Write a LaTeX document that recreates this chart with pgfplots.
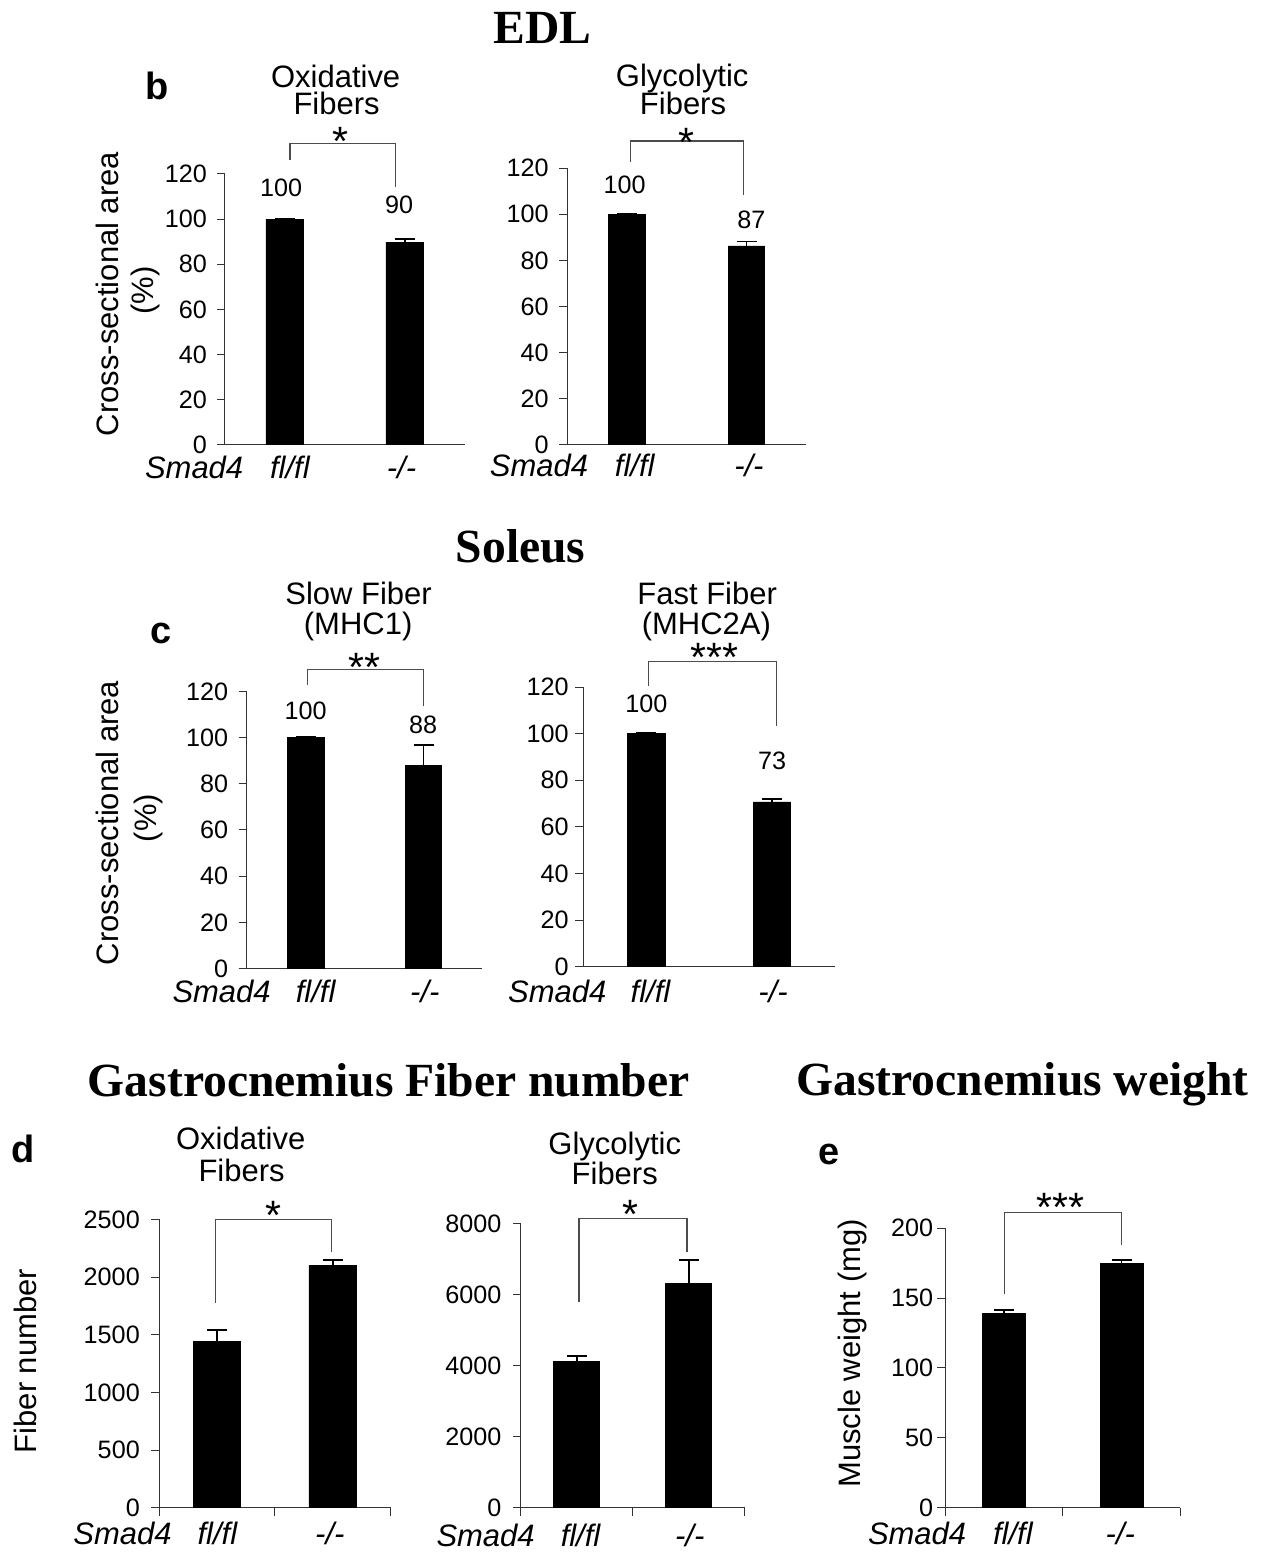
\documentclass[border=0pt]{standalone}
\usepackage{pgfplots}
\pgfplotsset{compat=1.18}
\usepackage{fontspec}
\setmainfont{Liberation Sans}
\newfontfamily\timesbold[Ligatures=TeX]{Liberation Serif}

\newcommand{\fsA}{\fontsize{12.6}{14}\selectfont}
\newcommand{\fsB}{\fontsize{15.5}{18}\selectfont}
\newcommand{\fsS}{\fontsize{20.5}{22}\selectfont}
\newcommand{\fsL}{\fontsize{19}{22}\selectfont\bfseries}
\newcommand{\fsH}{\fontsize{23.8}{26}\selectfont\timesbold\bfseries}

\tikzset{bracket/.style={black!70, line width=0.6pt}}

\pgfplotsset{
  panel/.style={
    scale only axis,
    clip=false,
    axis x line=bottom,
    axis y line=left,
    axis line style={-, black!80, line width=0.5pt},
    xmin=0.5, xmax=2.5, ymin=0,
    enlargelimits=false,
    xtick=\empty,
    tick align=outside,
    major tick length=4pt,
    tick style={black!80, line width=0.5pt},
    tick label style={font=\fsA},
    /pgf/number format/assume math mode=true,
    /pgf/number format/1000 sep={},
    scaled y ticks=false,
    ybar,
  },
  septicks/.style={xtick={0.5,1.5,2.5}, xticklabels={}},
  bars/.style={
    fill=black, draw=black, line width=0.4pt,
    error bars/.cd, y dir=plus, y explicit,
    error bar style={black, line width=0.8pt},
    error mark options={rotate=90, black, line width=0.8pt, mark size=5pt},
  },
}

\begin{document}
\begin{tikzpicture}

% ---- EDL, oxidative
\begin{axis}[panel, at={(112.5pt,-222.5pt)}, anchor=south west,
  width=120pt, height=135.5pt, ymax=120, ytick={0,20,...,120},
  bar width=0.315, yticklabel style={xshift=-1.5pt}]
\addplot[bars] coordinates {(1,100) +- (0,0.3) (2,89.8) +- (0,1.3)};
\draw[bracket] (axis cs:1.042,126.2) |- (axis cs:1.925,133.6) -- (axis cs:1.925,114.4);
\end{axis}

% ---- EDL, glycolytic
\begin{axis}[panel, at={(283.65pt,-222.5pt)}, anchor=south west,
  width=119.7pt, height=138.35pt, ymax=120, ytick={0,20,...,120},
  bar width=0.306, yticklabel style={xshift=-1.7pt}]
\addplot[bars] coordinates {(1,100) +- (0,0.3) (2,86.3) +- (0,1.9)};
\draw[bracket] (axis cs:1.03,122.9) |- (axis cs:1.976,131.8) -- (axis cs:1.976,108.4);
\end{axis}

% ---- Soleus, slow
\begin{axis}[panel, at={(123.35pt,-484.5pt)}, anchor=south west,
  width=118pt, height=138.65pt, ymax=120, ytick={0,20,...,120},
  bar width=0.311, yticklabel style={xshift=-1.7pt}]
\addplot[bars] coordinates {(1,100) +- (0,0.3) (2,87.8) +- (0,9.0)};
\draw[bracket] (axis cs:1.014,122.9) |- (axis cs:1.997,129.4) -- (axis cs:1.997,113.5);
\end{axis}

% ---- Soleus, fast
\begin{axis}[panel, at={(291.65pt,-483.65pt)}, anchor=south west,
  width=126pt, height=140pt, ymax=120, ytick={0,20,...,120},
  bar width=0.30, yticklabel style={xshift=0.3pt}]
\addplot[bars] coordinates {(1,100) +- (0,0.3) (2,70.7) +- (0,1.3)};
\draw[bracket] (axis cs:1.021,120.3) |- (axis cs:2.035,131) -- (axis cs:2.035,103.1);
\end{axis}

% ---- Gastrocnemius, oxidative fiber number
\begin{axis}[panel, septicks, at={(79.65pt,-754.15pt)}, anchor=south west,
  width=115.7pt, height=144.15pt, ymax=2500, ytick={0,500,...,2500},
  bar width=0.41, yticklabel style={xshift=-2.2pt}]
\addplot[bars] coordinates {(1,1442) +- (0,98) (2,2100) +- (0,50)};
\draw[bracket] (axis cs:0.99,1777) |- (axis cs:1.99,2500) -- (axis cs:1.99,2216);
\end{axis}

% ---- Gastrocnemius, glycolytic fiber number
\begin{axis}[panel, septicks, at={(260.5pt,-754.15pt)}, anchor=south west,
  width=112pt, height=142pt, ymax=8000, ytick={0,2000,...,8000},
  bar width=0.41, yticklabel style={xshift=-2.2pt}]
\addplot[bars] coordinates {(1,4113) +- (0,157) (2,6318) +- (0,657)};
\draw[bracket] (axis cs:1.02,5792) |- (axis cs:1.985,8141) -- (axis cs:1.985,7200);
\end{axis}

% ---- Gastrocnemius weight
\begin{axis}[panel, septicks, at={(472.85pt,-754.15pt)}, anchor=south west,
  width=117.65pt, height=139.8pt, ymax=200, ytick={0,50,...,200},
  bar width=0.363, yticklabel style={xshift=1.5pt}]
\addplot[bars] coordinates {(1,139) +- (0,2.3) (2,174.5) +- (0,2.6)};
\draw[bracket] (axis cs:1.004,152.6) |- (axis cs:2.001,211) -- (axis cs:2.001,188.3);
\end{axis}

% ---- text placed in reference pixel units
\begin{scope}[x=0.5pt, y=-0.5pt]
\path (0,0) rectangle (1270,1553);

% headings
\node[anchor=base, font=\fsH] at (542.5,43.3) {EDL};
\node[anchor=base, font=\fsH] at (520.8,563) {Soleus};
\node[anchor=base, font=\fsH] at (389,1096.5) {Gastrocnemius Fiber number};
\node[anchor=base, font=\fsH] at (1023,1096) {Gastrocnemius weight};

% panel letters
\node[anchor=base, font=\fsL] at (156.7,100) {b};
\node[anchor=base, font=\fsL] at (160.8,643.3) {c};
\node[anchor=base, font=\fsL] at (23.3,1163.3) {d};
\node[anchor=base, font=\fsL] at (829,1165) {e};

% subplot titles
\begin{scope}[every node/.style={anchor=base, font=\fsB}]
\node at (335.8,87.7) {Oxidative};
\node at (336.7,115) {Fibers};
\node at (682.5,86.7) {Glycolytic};
\node at (683.3,115) {Fibers};
\node at (358.7,605) {Slow Fiber};
\node at (358.3,635) {(MHC1)};
\node at (707.5,605) {Fast Fiber};
\node at (706.7,635) {(MHC2A)};
\node at (240.8,1150) {Oxidative};
\node at (241.7,1181.7) {Fibers};
\node at (615,1155) {Glycolytic};
\node at (615,1185) {Fibers};
\end{scope}

% y labels
\begin{scope}[every node/.style={anchor=center, rotate=90, font=\fsB}]
\node at (107,294.2) {Cross-sectional area};
\node at (145.8,290.8) {(\%)};
\node at (107.5,823.3) {Cross-sectional area};
\node at (148.3,818.3) {(\%)};
\node at (25,1361.7) {Fiber number};
\node at (853,1354) {Muscle weight (mg)};
\end{scope}

% genotype labels
\begin{scope}[every node/.style={anchor=base, font=\fsB\itshape}]
\node at (194.2,478.3) {Smad4}; \node at (290,478.3) {fl/fl}; \node at (401.7,478.3) {-/-};
\node at (539.2,476.7) {Smad4}; \node at (635,476.7) {fl/fl}; \node at (749.2,476.7) {-/-};
\node at (221.7,1003.3) {Smad4}; \node at (315.8,1003.3) {fl/fl}; \node at (425,1003.3) {-/-};
\node at (557.5,1003.3) {Smad4}; \node at (650.8,1003.3) {fl/fl}; \node at (773.3,1003.3) {-/-};
\node at (122.5,1545) {Smad4}; \node at (217.5,1545) {fl/fl}; \node at (330,1545) {-/-};
\node at (485.8,1546.7) {Smad4}; \node at (580.8,1546.7) {fl/fl}; \node at (690,1546.7) {-/-};
\node at (917.5,1545) {Smad4}; \node at (1013.3,1545) {fl/fl}; \node at (1120.8,1545) {-/-};
\end{scope}

% mean values above bars
\begin{scope}[every node/.style={anchor=base, font=\fsA}]
\node at (281.2,196.7) {100}; \node at (399.3,214) {90};
\node at (625,193.3) {100}; \node at (751.7,228.3) {87};
\node at (305.8,720) {100}; \node at (423.3,734.3) {88};
\node at (646.7,712.7) {100}; \node at (772.5,770) {73};
\end{scope}

% significance stars
\begin{scope}[every node/.style={anchor=base, font=\fsS}]
\node at (340.8,155.5) {*};
\node at (686.7,156.3) {*};
\node at (365,681.8) {**};
\node at (715,672.2) {***};
\node at (273.3,1230.5) {*};
\node at (630.3,1228.8) {*};
\node at (1060.7,1222.2) {***};
\end{scope}
\end{scope}

\end{tikzpicture}
\end{document}
